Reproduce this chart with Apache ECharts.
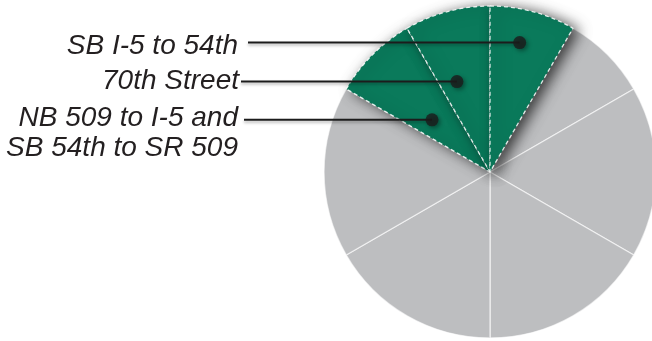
<!DOCTYPE html>
<html><head><meta charset="utf-8">
<script src="https://cdn.jsdelivr.net/npm/echarts@6/dist/echarts.min.js"></script>
<style>html,body{margin:0;padding:0;background:#fff}#c{width:652px;height:341px}</style>
</head><body><div id="c"></div>
<script>
// Slices listed clockwise starting at the 1 o'clock boundary (30° right of top)
const sliceNames = ['Other A', 'Other B', 'Other C', 'Other D', 'Other E',
  'NB 509 to I-5 and SB 54th to SR 509', '70th Street', 'SB I-5 to 54th'];
const sliceValues = [1, 2, 2, 2, 2, 1, 1, 1];
const sliceHighlighted = [false, false, false, false, false, true, true, true];
// Callout labels (top to bottom)
const calloutTexts = ['SB I-5 to 54th', '70th Street', 'NB 509 to I-5 and\nSB 54th to SR 509'];

const total = sliceValues.reduce((a, b) => a + b, 0);
const CX = 490, CY = 172, R = 166;
// dot anchor inside each highlighted slice: [angle in value units clockwise from top, radius fraction]
const calloutAnchors = [[0.43, 0.80], [11.33, 0.58], [10.4, 0.47]];
const textRight = [238, 239, 238];
const lineStart = [248, 241, 244];
const textTop = [31, 66, 103];

const GREEN = '#0a7a5b', GRAY = '#bdbec0';

const chart = echarts.init(document.getElementById('c'), null, {renderer: 'canvas'});
chart.setOption({
  animation: false,
  backgroundColor: '#fff',
  polar: {center: [CX, CY], radius: R},
  angleAxis: {type: 'value', min: 0, max: total, startAngle: 90, clockwise: true, show: false},
  radiusAxis: {type: 'value', min: 0, max: 1, show: false},
  series: [
    {
      type: 'pie', center: [CX, CY], radius: [0, R], startAngle: 60, clockwise: true,
      label: {show: false}, labelLine: {show: false}, silent: true,
      data: sliceNames.map((n, i) => ({
        name: n, value: sliceValues[i],
        itemStyle: sliceHighlighted[i] ? {
          color: GREEN, borderColor: 'rgba(255,255,255,0.85)', borderWidth: 1.3,
          borderType: [4, 3],
          shadowColor: 'rgba(0,0,0,0.7)', shadowBlur: 14, shadowOffsetX: 6, shadowOffsetY: 2
        } : {
          color: GRAY, borderColor: 'rgba(255,255,255,0.6)', borderWidth: 1.4
        }
      }))
    },
    {
      type: 'scatter', coordinateSystem: 'polar', symbol: 'circle', symbolSize: 13,
      itemStyle: {color: '#1c1c1c', shadowColor: 'rgba(0,0,0,0.45)', shadowBlur: 4, shadowOffsetX: 2, shadowOffsetY: 2},
      data: calloutAnchors.map(a => [a[1], a[0]]), z: 5
    }
  ]
});

const graphics = [];
calloutAnchors.forEach((a, i) => {
  const p = chart.convertToPixel({seriesIndex: 1}, [a[1], a[0]]);
  graphics.push({
    type: 'line', z: 4,
    shape: {x1: lineStart[i], y1: p[1], x2: p[0], y2: p[1]},
    style: {stroke: '#1c1c1c', lineWidth: 2, shadowColor: 'rgba(0,0,0,0.3)', shadowBlur: 3, shadowOffsetY: 2}
  });
  graphics.push({
    type: 'text', z: 4, x: textRight[i], y: textTop[i],
    style: {
      text: calloutTexts[i], align: 'right', verticalAlign: 'top',
      font: 'italic 28px "Liberation Sans", Arial, sans-serif', fill: '#231f20', lineHeight: 30
    }
  });
});
chart.setOption({graphic: graphics});
</script></body></html>
